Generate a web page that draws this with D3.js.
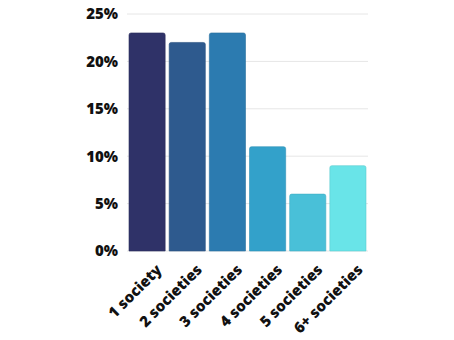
<!DOCTYPE html>
<html>
<head>
<meta charset="utf-8">
<script src="https://cdn.jsdelivr.net/npm/d3@7"></script>
<style>
  body { margin: 0; background: #fff; }
  svg text { font-family: "Open Sans", sans-serif; font-weight: 800; fill: #111; }
</style>
</head>
<body>
<div class="canva"></div>
<script>
// chart data
const categories = ["1 society", "2 societies", "3 societies", "4 societies", "5 societies", "6+ societies"];
const shares = [23, 22, 23, 11, 6, 9];
const yTicks = [0, 5, 10, 15, 20, 25];
const barColors = ["#2f3268", "#2e5a8e", "#2c7bb0", "#33a1ca", "#49c0d8", "#69e4e8"];

const width = 454, height = 340;
const margin = {top: 14, right: 86, bottom: 89, left: 127};

const svg = d3.select(".canva").append("svg")
    .attr("width", width)
    .attr("height", height);

const g = svg.append("g")
    .attr("transform", `translate(${margin.left}, ${margin.top})`);

const graphWidth = width - margin.left - margin.right;
const graphHeight = height - margin.top - margin.bottom;

const x = d3.scaleBand()
    .domain(categories)
    .range([0, graphWidth])
    .paddingInner(0.1)
    .paddingOuter(0.05);

const y = d3.scaleLinear()
    .domain([0, 25])
    .range([graphHeight, 0]);

// gridlines
g.append("g")
    .selectAll("line")
    .data(yTicks)
    .enter()
    .append("line")
    .attr("x1", 0)
    .attr("x2", graphWidth)
    .attr("y1", d => y(d))
    .attr("y2", d => y(d))
    .attr("stroke", "#e6e6e6")
    .attr("stroke-width", 1);

// y axis labels
const yAxis = g.append("g")
    .call(d3.axisLeft(y).tickValues(yTicks).tickFormat(d => d + "%").tickSize(0).tickPadding(9));
yAxis.select(".domain").remove();
yAxis.selectAll("text")
    .style("font-size", "15px")
    .attr("fill", "#111");

// bars with rounded tops
const r = 2;
g.selectAll("path.bar")
    .data(shares)
    .enter()
    .append("path")
    .attr("class", "bar")
    .attr("d", (d, i) => {
        const x0 = x(categories[i]), w = x.bandwidth();
        const y0 = y(d), y1 = y(0);
        return `M${x0},${y1}V${y0 + r}Q${x0},${y0} ${x0 + r},${y0}H${x0 + w - r}Q${x0 + w},${y0} ${x0 + w},${y0 + r}V${y1}Z`;
    })
    .attr("fill", (d, i) => barColors[i])
    .attr("stroke", (d, i) => d3.color(barColors[i]).darker(0.3))
    .attr("stroke-width", 0.6);

// x axis labels
const xAxis = g.append("g")
    .attr("transform", `translate(0, ${graphHeight})`)
    .call(d3.axisBottom(x).tickSize(0).tickPadding(0));
xAxis.select(".domain").remove();
xAxis.selectAll("text")
    .style("font-size", "15px")
    .attr("fill", "#111")
    .style("text-anchor", "end")
    .attr("y", 0)
    .attr("dy", "0.35em")
    .attr("transform", "translate(12, 16) rotate(-45)");
</script>
</body>
</html>
